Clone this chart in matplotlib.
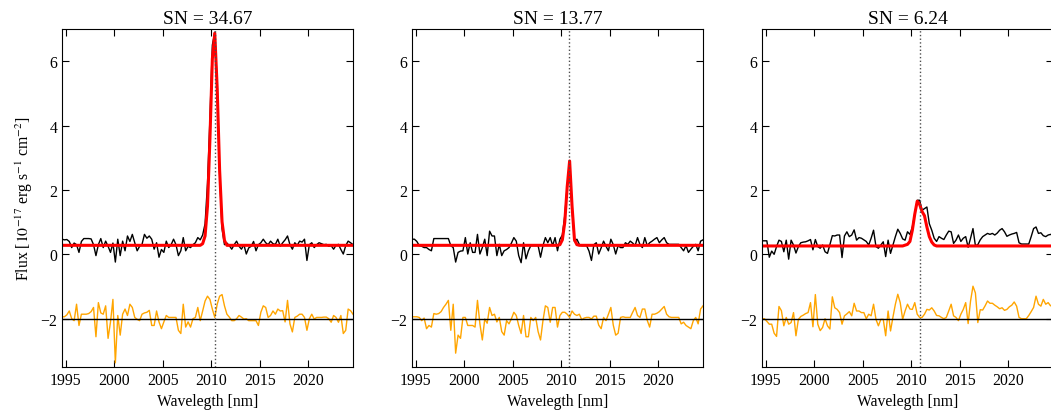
import numpy as np
import matplotlib
matplotlib.use("Agg")
import matplotlib.pyplot as plt

plt.rcParams['font.family'] = ['Liberation Serif', 'DejaVu Serif']
plt.rcParams['mathtext.fontset'] = 'stix'
plt.rcParams['font.size'] = 11.3

# wavelength grid [nm]
wave = 1994.6 + 0.25 * np.arange(121)

sn_values = [34.67, 13.77, 6.24]
line_centers = [2010.33, 2010.8, 2010.85]

flux1 = [0.47, 0.45, 0.46, 0.40, 0.21, 0.35, 0.30, 0.06, 0.40, 0.49,
         0.49, 0.49, 0.48, 0.30, -0.04, 0.30, 0.49, 0.21, 0.41, 0.25,
         0.06, 0.35, -0.24, 0.47, -0.04, 0.41, 0.11, 0.57, 0.40, 0.62,
         0.36, 0.11, 0.25, 0.31, 0.62, 0.50, 0.57, 0.47, 0.16, 0.36,
         -0.09, 0.15, 0.06, 0.41, 0.21, 0.30, 0.47, 0.30, -0.04, 0.11,
         0.52, 0.11, 0.25, 0.21, 0.30, 0.36, 0.52, 0.45, 0.60, 0.95,
         2.20, 4.20, 6.50, 6.90, 5.30, 2.50, 0.80, 0.30, 0.35, 0.27,
         0.16, 0.30, 0.41, 0.25, 0.16, 0.30, 0.01, 0.20, 0.25, 0.40,
         0.11, 0.30, 0.36, 0.47, 0.36, 0.30, 0.41, 0.33, 0.31, 0.47,
         0.25, 0.36, 0.45, 0.57, 0.30, 0.16, 0.36, 0.28, 0.41, 0.38,
         0.47, -0.19, 0.30, 0.36, 0.21, 0.30, 0.36, 0.33, 0.30, 0.31,
         0.25, 0.27, 0.16, 0.28, 0.31, 0.15, 0.01, 0.27, 0.41, 0.36,
         0.30]

flux2 = [0.47, 0.47, 0.40, 0.27, 0.25, 0.21, 0.21, 0.15, 0.11, 0.49,
         0.49, 0.49, 0.49, 0.49, 0.49, 0.49, 0.27, 0.21, -0.24, 0.06,
         0.10, 0.11, 0.52, 0.01, 0.36, 0.06, 0.06, 0.62, 0.01, 0.21,
         0.47, -0.04, 0.72, 0.57, 0.57, -0.04, 0.31, -0.04, 0.11, 0.15,
         0.21, 0.35, 0.52, 0.41, -0.04, -0.26, 0.36, -0.14, 0.11, 0.27,
         0.27, 0.27, 0.27, -0.09, 0.27, 0.52, 0.36, 0.52, 0.27, 0.52,
         0.11, 0.47, 0.60, 1.20, 2.10, 2.85, 1.40, 0.40, 0.47, 0.31,
         0.27, 0.27, 0.27, 0.10, -0.19, 0.30, 0.36, 0.01, 0.20, 0.41,
         0.25, 0.11, 0.47, 0.30, 0.01, 0.27, 0.21, 0.21, 0.36, 0.31,
         0.41, 0.35, 0.27, 0.52, 0.30, 0.21, 0.52, 0.27, 0.36, 0.41,
         0.47, 0.52, 0.36, 0.45, 0.52, 0.36, 0.31, 0.31, 0.31, 0.31,
         0.31, 0.21, 0.11, 0.27, 0.06, 0.16, 0.25, 0.31, 0.11, 0.41,
         0.45]

flux3 = [0.42, 0.42, 0.42, -0.09, 0.10, 0.00, 0.24, 0.44, 0.40, 0.08,
         0.44, -0.15, 0.44, 0.29, 0.04, 0.24, 0.36, 0.38, 0.39, 0.42,
         0.46, 0.14, 0.46, 0.24, 0.19, 0.29, 0.08, 0.03, 0.30, 0.58,
         0.57, 0.60, 0.60, -0.10, 0.57, 0.70, 0.55, 0.60, 0.76, 0.44,
         0.52, 0.50, 0.45, 0.40, 0.29, 0.50, 0.75, 0.24, 0.19, 0.29,
         0.39, -0.07, 0.44, 0.03, 0.29, 0.55, 0.78, 0.65, 0.48, 0.44,
         0.70, 0.62, 0.85, 1.25, 1.68, 1.68, 1.37, 1.42, 1.47, 0.95,
         0.75, 0.50, 0.40, 0.55, 0.50, 0.46, 0.60, 0.72, 0.70, 0.34,
         0.44, 0.60, 0.40, 0.50, 0.55, 0.22, 0.50, 0.80, 0.27, 0.30,
         0.45, 0.55, 0.60, 0.65, 0.62, 0.65, 0.60, 0.66, 0.75, 0.80,
         0.70, 0.56, 0.60, 0.63, 0.65, 0.68, 0.36, 0.32, 0.32, 0.32,
         0.32, 0.55, 0.80, 0.85, 0.65, 0.67, 0.58, 0.55, 0.60, 0.62,
         0.58]

resid1 = [-1.94, -1.94, -1.88, -1.76, -2.00, -2.06, -1.55, -2.21, -1.86, -1.86,
          -1.86, -1.84, -1.78, -1.65, -2.56, -1.50, -1.82, -1.86, -1.60, -2.61,
          -2.10, -1.40, -3.37, -1.90, -2.51, -1.86, -1.70, -1.90, -1.55, -1.65,
          -1.96, -2.02, -2.06, -1.86, -1.82, -1.80, -1.74, -2.21, -2.21, -1.76,
          -2.10, -2.31, -2.10, -1.90, -1.96, -1.96, -1.96, -1.96, -2.36, -2.46,
          -1.55, -2.26, -2.10, -2.26, -2.00, -1.96, -1.65, -2.06, -1.76, -1.45,
          -1.30, -1.40, -1.70, -1.96, -1.55, -1.30, -1.25, -1.60, -1.86, -1.95,
          -2.06, -2.06, -2.00, -1.90, -1.95, -2.01, -2.00, -2.06, -2.06, -2.06,
          -2.06, -2.21, -1.80, -1.60, -1.65, -1.96, -1.90, -1.76, -1.86, -1.70,
          -1.76, -1.75, -2.10, -1.43, -2.16, -2.41, -1.96, -1.92, -1.86, -1.86,
          -1.96, -2.36, -2.00, -1.86, -2.01, -1.96, -1.96, -1.96, -1.95, -1.95,
          -2.00, -2.11, -1.90, -1.96, -2.11, -1.90, -2.46, -2.36, -1.70, -1.75,
          -1.86]

resid2 = [-1.94, -1.94, -1.94, -1.96, -2.06, -1.98, -2.31, -2.21, -2.26, -1.84,
          -1.86, -1.84, -1.78, -1.65, -1.55, -1.43, -2.36, -1.55, -3.07, -2.51,
          -2.61, -1.96, -1.96, -2.21, -2.21, -2.21, -2.26, -1.43, -2.16, -2.66,
          -2.01, -2.14, -1.65, -1.90, -1.86, -2.10, -1.96, -2.40, -2.51, -2.06,
          -2.16, -2.00, -1.80, -1.90, -2.21, -2.46, -1.90, -2.56, -2.56, -1.96,
          -2.06, -1.96, -2.40, -2.66, -2.06, -1.60, -1.65, -2.11, -1.65, -1.65,
          -2.26, -1.90, -1.80, -1.80, -1.86, -1.96, -1.76, -1.86, -1.90, -1.86,
          -2.03, -1.98, -1.96, -1.96, -2.01, -1.92, -1.92, -2.20, -2.31, -1.96,
          -2.06, -1.86, -1.65, -2.20, -2.51, -2.45, -1.96, -1.94, -1.96, -1.96,
          -1.96, -1.80, -1.65, -1.90, -1.96, -1.70, -1.70, -2.05, -2.26, -1.86,
          -1.86, -1.83, -1.78, -1.70, -1.62, -1.86, -1.94, -1.96, -1.96, -1.96,
          -1.96, -2.16, -2.11, -2.21, -2.26, -2.31, -2.06, -1.96, -2.16, -1.70,
          -1.60]

resid3 = [-2.00, -2.00, -2.08, -2.17, -2.17, -2.45, -2.55, -1.62, -1.75, -2.22,
          -1.96, -2.17, -2.12, -1.81, -2.53, -2.02, -1.93, -1.89, -1.84, -1.81,
          -1.50, -2.25, -1.25, -2.17, -2.37, -2.27, -2.00, -2.22, -2.32, -1.32,
          -1.66, -1.71, -1.81, -2.17, -1.91, -1.85, -1.78, -1.91, -1.52, -1.76,
          -1.76, -1.81, -1.81, -2.00, -1.86, -1.91, -1.55, -2.02, -2.22, -2.02,
          -2.02, -2.53, -1.76, -2.38, -1.95, -1.55, -1.24, -1.50, -2.02, -1.76,
          -1.55, -1.70, -1.71, -1.50, -1.86, -1.96, -1.96, -1.86, -1.71, -1.73,
          -1.66, -1.76, -1.90, -1.91, -1.96, -2.00, -1.96, -1.76, -1.55, -1.91,
          -1.96, -2.06, -1.86, -1.71, -1.50, -2.15, -1.45, -0.99, -1.20, -2.12,
          -1.72, -1.73, -1.60, -1.45, -1.52, -1.52, -1.58, -1.63, -1.69, -1.66,
          -1.74, -1.71, -1.63, -1.58, -1.48, -1.61, -1.96, -2.00, -2.00, -2.00,
          -1.90, -1.78, -1.65, -1.30, -1.55, -1.61, -1.40, -1.55, -1.50, -1.60,
          -1.55]

# fitted line model, vertices of the red curve
model1_wave = [1994.6, 2008.85, 2009.1, 2009.35, 2009.6, 2009.85, 2010.1, 2010.35,
               2010.6, 2010.85, 2011.1, 2011.35, 2011.6, 2024.6]
model1_flux = [0.28, 0.28, 0.33, 0.57, 1.50, 3.58, 6.07, 6.87,
               5.15, 2.61, 1.01, 0.43, 0.28, 0.28]
model2_wave = [1994.6, 2009.6, 2009.85, 2010.1, 2010.35, 2010.6, 2010.85, 2011.1,
               2011.35, 2011.6, 2011.85, 2024.6]
model2_flux = [0.28, 0.28, 0.30, 0.45, 1.00, 2.10, 2.90, 1.50,
               0.45, 0.30, 0.28, 0.28]
model3_wave = [1994.6, 2009.1, 2009.6, 2009.85, 2010.1, 2010.35, 2010.6, 2010.85,
               2011.1, 2011.35, 2011.6, 2011.85, 2012.1, 2012.35, 2012.6, 2024.6]
model3_flux = [0.26, 0.26, 0.31, 0.40, 0.75, 1.25, 1.65, 1.55,
               1.33, 1.20, 0.85, 0.55, 0.38, 0.29, 0.26, 0.26]

fluxes = [flux1, flux2, flux3]
resids = [resid1, resid2, resid3]
models = [(model1_wave, model1_flux), (model2_wave, model2_flux), (model3_wave, model3_flux)]

fig = plt.figure(figsize=(10.51, 4.14), dpi=100)
lefts = [62, 412, 762]

for k in range(3):
    ax = fig.add_axes([lefts[k] / 1051, 46 / 414, 291 / 1051, 338 / 414])
    ax.plot(wave, resids[k], color='orange', lw=1)
    ax.axhline(-2, color='black', lw=1)
    ax.plot(wave, fluxes[k], color='black', lw=1)
    ax.plot(models[k][0], models[k][1], color='red', lw=2.2)
    ax.axvline(line_centers[k], color='0.3', ls=':', lw=1)
    ax.set_xlim(1994.6, 2024.6)
    ax.set_ylim(-3.5, 7)
    ax.set_xticks([1995, 2000, 2005, 2010, 2015, 2020])
    ax.set_yticks([-2, 0, 2, 4, 6])
    ax.tick_params(direction='in', top=True, right=True, length=5, width=0.8)
    ax.set_xlabel('Wavelegth [nm]')
    ax.set_title('SN = %.2f' % sn_values[k], fontsize=14, pad=4)
    if k == 0:
        ax.set_ylabel(r'Flux [$10^{-17}$ erg s$^{-1}$ cm$^{-2}$]')

fig.savefig('out.png', dpi=100)
